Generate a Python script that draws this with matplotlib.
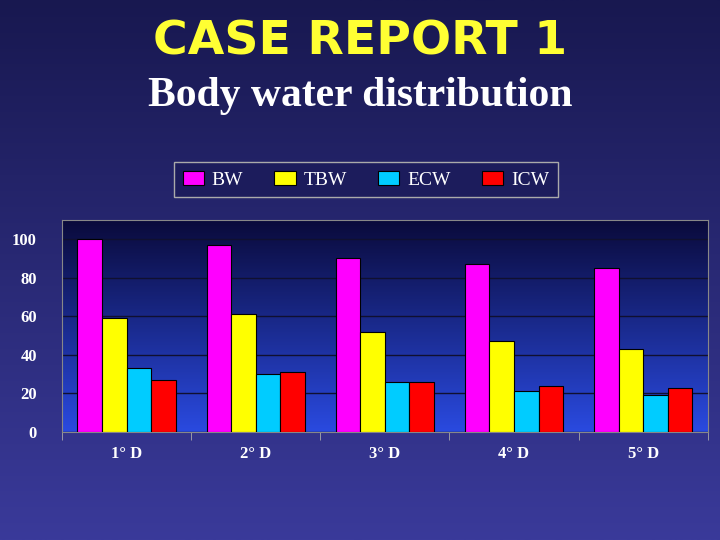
import matplotlib
matplotlib.use("Agg")
import matplotlib.pyplot as plt
import numpy as np

categories = ["1° D", "2° D", "3° D", "4° D", "5° D"]
series = ["BW", "TBW", "ECW", "ICW"]
BW = [100, 97, 90, 87, 85]
TBW = [59, 61, 52, 47, 43]
ECW = [33, 30, 26, 21, 19]
ICW = [27, 31, 26, 24, 23]
colors = ["#ff00ff", "#ffff00", "#00ccff", "#ff0000"]

fig = plt.figure(figsize=(7.2, 5.4), dpi=100)
bg = fig.add_axes([0, 0, 1, 1], zorder=-10)
grad = np.linspace(0, 1, 256).reshape(-1, 1)
from matplotlib.colors import LinearSegmentedColormap
cm = LinearSegmentedColormap.from_list("bg", ["#181850", "#3a3a9a"])
bg.imshow(grad, aspect="auto", cmap=cm, extent=[0, 1, 0, 1], origin="upper")
bg.axis("off")

fig.text(0.5, 0.922, "CASE REPORT 1", color="#ffff33", fontsize=34, fontweight="bold",
         ha="center", va="center", family="DejaVu Sans")
fig.text(0.5, 0.823, "Body water distribution", color="white", fontsize=30, fontweight="bold",
         ha="center", va="center", family="Liberation Serif")

ax = fig.add_axes([0.086, 0.2, 0.897, 0.393])
cm2 = LinearSegmentedColormap.from_list("pa", ["#0a0a3a", "#2a4ae0"])
ax.imshow(grad, aspect="auto", cmap=cm2, extent=[-0.5, 4.5, 0, 110], origin="upper", zorder=0)
x = np.arange(len(categories))
w = 0.19
for i, (name, vals) in enumerate(zip(series, [BW, TBW, ECW, ICW])):
    ax.bar(x + (i - 1.5) * w, vals, w, color=colors[i], edgecolor="black", linewidth=0.8,
           label=name, zorder=3)
ax.set_xlim(-0.5, 4.5)
ax.set_ylim(0, 110)
ax.set_yticks(range(0, 101, 20))
ax.set_xticks(x)
ax.set_xticklabels(categories)
ax.yaxis.grid(True, color="#101030", linewidth=1, zorder=1)
for tl in ax.get_xticklabels() + ax.get_yticklabels():
    tl.set_color("white"); tl.set_fontweight("bold"); tl.set_family("Liberation Serif"); tl.set_fontsize(12)
ax.tick_params(axis="y", length=0, pad=18)
ax.set_xticks(np.arange(-0.5, 5, 1), minor=True)
ax.tick_params(axis="x", which="minor", length=6, color="#aaaaaa")
ax.tick_params(axis="x", which="major", length=0, pad=10)
for s in ax.spines.values():
    s.set_color("#888888")
leg = fig.legend(loc="center", bbox_to_anchor=(0.508, 0.667), ncol=4, frameon=True,
                 prop={"family": "Liberation Serif", "size": 14}, handlelength=1.1,
                 columnspacing=1.6, borderpad=0.15, handletextpad=0.4)
leg.get_frame().set_facecolor("#1c1c5c"); leg.get_frame().set_edgecolor("#aaaaaa")
leg.get_frame().set_boxstyle("square"); leg.get_frame().set_alpha(1)
for t in leg.get_texts():
    t.set_color("white")
fig.savefig("out.png", dpi=100)
